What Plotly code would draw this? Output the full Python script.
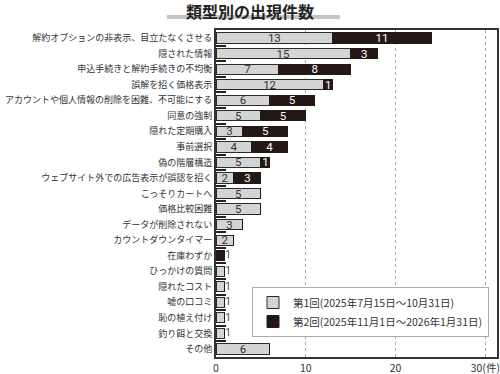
import plotly.graph_objects as go

categories = [
    "解約オプションの非表示、目立たなくさせる",
    "隠された情報",
    "申込手続きと解約手続きの不均衡",
    "誤解を招く価格表示",
    "アカウントや個人情報の削除を困難、不可能にする",
    "同意の強制",
    "隠れた定期購入",
    "事前選択",
    "偽の階層構造",
    "ウェブサイト外での広告表示が誤認を招く",
    "こっそりカートへ",
    "価格比較困難",
    "データが削除されない",
    "カウントダウンタイマー",
    "在庫わずか",
    "ひっかけの質問",
    "隠れたコスト",
    "嘘の口コミ",
    "恥の植え付け",
    "釣り餌と交換",
    "その他",
]
round1 = [13, 15, 7, 12, 6, 5, 3, 4, 5, 2, 5, 5, 3, 2, 0, 1, 1, 1, 1, 1, 6]
round2 = [11, 3, 8, 1, 5, 5, 5, 4, 1, 3, 0, 0, 0, 0, 1, 0, 0, 0, 0, 0, 0]
series_names = ["第1回(2025年7月15日～10月31日)", "第2回(2025年11月1日～2026年1月31日)"]
x_tickvals = [0, 10, 20, 30]
x_ticktext = ["0", "10", "20", "30(件)"]
title_text = "類型別の出現件数"

FONT = "Noto Sans CJK JP"
totals = [a + b for a, b in zip(round1, round2)]

def inside_text(vals):
    return [str(v) if (v > 0 and t > 1) else "" for v, t in zip(vals, totals)]

fig = go.Figure()
fig.add_trace(go.Bar(
    y=categories, x=round1, orientation="h", name=series_names[0],
    marker=dict(color="#d4d4d4", line=dict(color="#2a2a2a", width=1)),
    text=inside_text(round1), textposition="inside", insidetextanchor="middle",
    textangle=0,
    textfont=dict(color="#333333", size=11.5, family="Roboto"),
    width=0.66, hoverinfo="skip",
))
fig.add_trace(go.Bar(
    y=categories, x=round2, orientation="h", name=series_names[1],
    marker=dict(color="#231815", line=dict(color="#231815", width=1)),
    text=inside_text(round2), textposition="inside", insidetextanchor="middle",
    textangle=0,
    textfont=dict(color="#ffffff", size=11.5, family="Roboto"),
    width=0.66, hoverinfo="skip",
))
# outside labels for single-unit bars
out_y = [c for c, t in zip(categories, totals) if t == 1]
out_x = [t for t in totals if t == 1]
fig.add_trace(go.Scatter(
    y=out_y, x=out_x, mode="text", text=[str(t) for t in out_x],
    textposition="middle right", textfont=dict(color="#555555", size=11, family="Roboto"),
    showlegend=False, hoverinfo="skip", cliponaxis=False,
))

fig.update_layout(
    width=500, height=374,
    margin=dict(l=216, r=3, t=30, b=17, autoexpand=False),
    barmode="stack",
    paper_bgcolor="white", plot_bgcolor="white",
    font=dict(family=FONT, color="#333333", size=10.5),
    uniformtext=dict(minsize=11, mode="show"),
    showlegend=True,
    legend=dict(
        x=(252 - 216) / 281, y=(357 - 287) / 327, xanchor="left", yanchor="top",
        bgcolor="white", bordercolor="#aaaaaa", borderwidth=1,
        font=dict(size=10.5, family=FONT, color="#333333"),
        traceorder="normal", tracegroupgap=0, itemwidth=30,
    ),
    xaxis=dict(
        range=[0, 31.3], tickvals=x_tickvals, ticktext=x_ticktext,
        showgrid=True, gridcolor="#aaaaaa", griddash="dot", gridwidth=1,
        zeroline=False, showline=True, mirror=True, linecolor="#333333", linewidth=2,
        ticks="", tickfont=dict(size=10.5, family=FONT, color="#333333"),
        fixedrange=True, automargin=False,
    ),
    yaxis=dict(
        categoryorder="array", categoryarray=categories,
        range=[20.52, -0.52],
        showline=True, mirror=True, linecolor="#333333", linewidth=2,
        ticks="inside", tickson="boundaries", ticklen=10, tickwidth=2, tickcolor="#222222",
        tickfont=dict(size=9, family=FONT, color="#333333"),
        showgrid=False, fixedrange=True, automargin=False,
    ),
    title=dict(
        text=f"<b>{title_text}</b>", x=0.5, xanchor="center", xref="container",
        y=1 - 12.5 / 374, yanchor="middle", yref="container",
        font=dict(size=16, family=FONT, color="#222222"),
        automargin=False,
    ),
    shapes=[dict(
        type="rect", xref="paper", yref="paper",
        x0=(167 - 216) / 281, x1=(340 - 216) / 281,
        y0=(357 - 19) / 327, y1=(357 - 15) / 327,
        fillcolor="#c4c4c4", line=dict(width=0), layer="below",
    )],
)

fig.write_html("out.html", config={"displayModeBar": False},
               post_script="document.body.style.margin='0px';")
